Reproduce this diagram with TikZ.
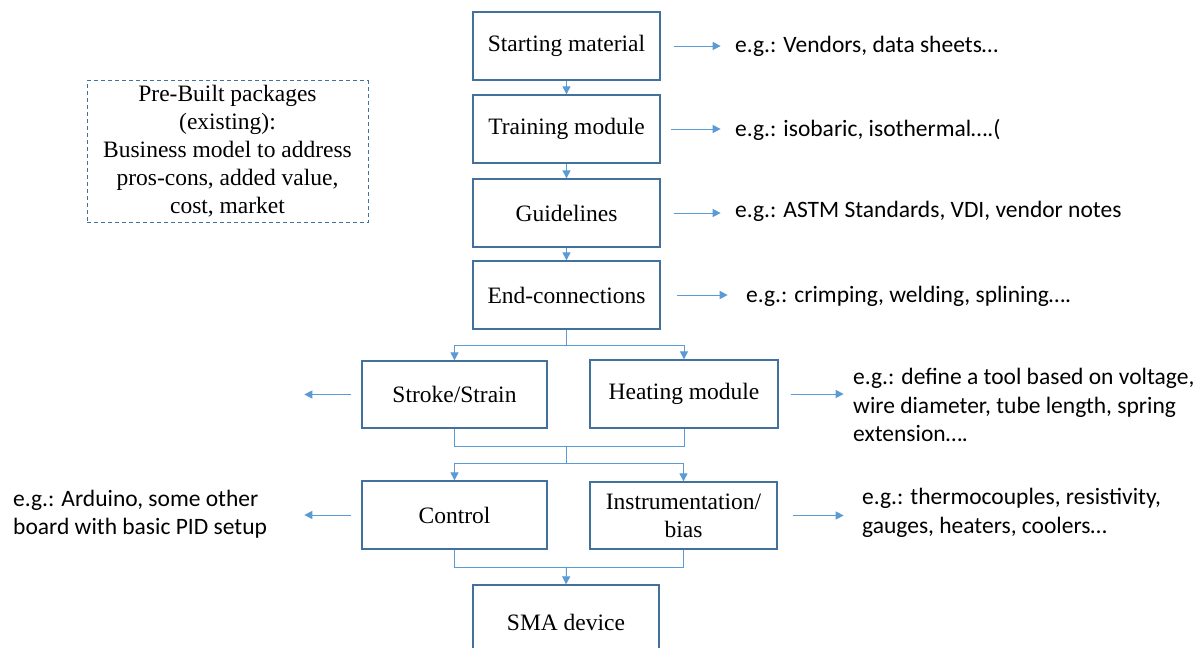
\documentclass[tikz,border=0pt]{standalone}
\usepackage{fontspec}
\setmainfont{Liberation Serif}
\newfontfamily\calfont{Carlito}
\usetikzlibrary{arrows.meta,calc}
\definecolor{boxblue}{HTML}{41719C}
\definecolor{lineblue}{HTML}{5B9BD5}
\begin{document}
\begin{tikzpicture}[x=1pt,y=-1pt,
  box/.style={draw=boxblue,line width=1.3pt,minimum width=187pt,minimum height=68pt,inner sep=0pt,font=\fontsize{23.5}{28}\selectfont,align=center},
  conn/.style={draw=lineblue,line width=1pt},
  arr/.style={conn,-{Triangle[length=8pt,width=8pt]}},
  note/.style={font=\calfont\fontsize{23.5}{28.5}\selectfont,anchor=west,inner sep=0pt,align=left}]
\clip (0,0) rectangle (1203,648);
\fill[white] (0,0) rectangle (1203,648);
% main boxes
\node[box] (sm) at (566.5,46) {Starting material};
\node[box] (tm) at (566.5,129) {Training module};
\node[box] (gl) at (566.5,213) {Guidelines};
\node[box] (ec) at (566.5,295) {End-connections};
\node[box,minimum width=185pt,minimum height=67pt] (ss) at (454.5,394.5) {Stroke/Strain};
\node[box,minimum width=188pt] (hm) at (684,394) {Heating module};
\node[box,minimum width=185pt] (ct) at (454.5,515) {Control};
\node[box,minimum height=67pt] (ib) at (683.5,515.5) {Instrumentation/\\bias};
\node[box,minimum width=186pt,minimum height=74pt] (sma) at (566,622) {SMA device};
% dashed box
\node[box,dashed,line width=1pt,dash pattern=on 4pt off 3pt,minimum width=281pt,minimum height=142pt] (pb) at (227.5,151.5) {Pre-Built packages\\(existing):\\Business model to address\\pros-cons, added value,\\cost, market};
% vertical chain
\draw[arr] (sm) -- (tm);
\draw[arr] (tm) -- (gl);
\draw[arr] (gl) -- (ec);
\coordinate (j1) at (566.5,345);
\draw[conn] (ec.south) -- (j1);
\draw[arr] (j1) -| (ss.north);
\draw[arr] (j1) -| (hm.north);
\coordinate (j2) at (566.5,446);
\coordinate (j3) at (566.5,463);
\draw[conn] (ss.south) |- (j2);
\draw[conn] (hm.south) |- (j2);
\draw[conn] (j2) -- (j3);
\draw[arr] (j3) -| (ct.north);
\draw[arr] (j3) -| (ib.north);
\coordinate (j4) at (566.5,567);
\draw[conn] (ct.south) |- (j4);
\draw[conn] (ib.south) |- (j4);
\draw[arr] (j4) -- (sma.north);
% notes
\node[note] (n1) at (735,46) {e.g.: Vendors, data sheets…};
\node[note] (n2) at (735,130) {e.g.: isobaric, isothermal….(};
\node[note] (n3) at (735,211) {e.g.: ASTM Standards, VDI, vendor notes};
\node[note] (n4) at (746,296) {e.g.: crimping, welding, splining….};
\node[note] (n5) at (853,405) {e.g.: define a tool based on voltage,\\wire diameter, tube length, spring\\extension….};
\node[note] (n6) at (13,514) {e.g.: Arduino, some other\\board with basic PID setup};
\node[note] (n7) at (862,513) {e.g.: thermocouples, resistivity,\\gauges, heaters, coolers…};
% side arrows
\draw[arr,shorten <=13pt] (sm.east) -- ++(60,0);
\draw[arr,shorten <=10pt] (tm.east) -- ++(60,0);
\draw[arr,shorten <=13pt] (gl.east) -- ++(60,0);
\draw[arr,shorten <=16pt] (ec.east) -- ++(67,0);
\draw[arr,shorten <=10pt] (ss.west) -- ++(-57,0);
\draw[arr,shorten <=12pt] (hm.east) -- ++(65,0);
\draw[arr,shorten <=10pt] (ct.west) -- ++(-57,0);
\draw[arr,shorten <=15pt] (ib.east) -- ++(66,0);
\end{tikzpicture}
\end{document}
